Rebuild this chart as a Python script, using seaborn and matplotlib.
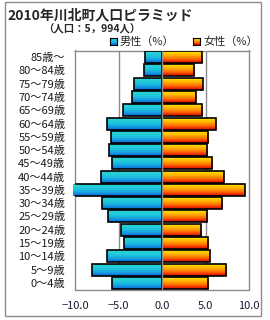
import numpy as np
import pandas as pd
import matplotlib
matplotlib.use("Agg")
import matplotlib.pyplot as plt
from matplotlib.colors import LinearSegmentedColormap
import seaborn as sns

# ---- data ----
age_groups = ["85歳～", "80～84歳", "75～79歳", "70～74歳", "65～69歳", "60～64歳",
              "55～59歳", "50～54歳", "45～49歳", "40～44歳", "35～39歳", "30～34歳",
              "25～29歳", "20～24歳", "15～19歳", "10～14歳", "5～9歳", "0～4歳"]
male_pct = [1.9, 2.1, 3.2, 3.5, 4.5, 6.3, 5.9, 6.1, 5.7, 7.0, 10.2, 6.9,
            6.2, 4.7, 4.4, 6.3, 8.1, 5.8]
female_pct = [4.6, 3.7, 4.7, 3.9, 4.6, 6.2, 5.3, 5.2, 5.8, 7.1, 9.5, 6.9,
              5.2, 4.5, 5.3, 5.5, 7.4, 5.3]
x_ticks = [-10, -5, 0, 5, 10]
x_tick_labels = ["−10.0", "−5.0", "0.0", "5.0", "10.0"]
title = "2010年川北町人口ピラミッド"
subtitle = "（人口：5，994人）"
legend_labels = ["男性（%）", "女性（%）"]

sns.set_style("white")
plt.rcParams["font.family"] = ["Noto Sans CJK JP", "DejaVu Sans"]

male_cmap = LinearSegmentedColormap.from_list(
    "m", [(0, "#2cd6d2"), (0.45, "#1ec4dc"), (0.75, "#1598e0"), (1, "#0a62d8")])
female_cmap = LinearSegmentedColormap.from_list(
    "f", [(0, "#ffe600"), (0.35, "#ffb000"), (0.65, "#ff6a00"), (1, "#d80000")])

fig = plt.figure(figsize=(2.7, 3.2), dpi=100)
ax = fig.add_axes([75 / 270, 1 - 289.5 / 320, 174 / 270, 239 / 320])

df = pd.DataFrame({"age": age_groups * 2,
                   "value": [-v for v in male_pct] + female_pct,
                   "sex": ["male"] * len(age_groups) + ["female"] * len(age_groups)})

sns.barplot(data=df[df.sex == "male"], x="value", y="age", order=age_groups,
            orient="h", width=0.9, color="#1ec4dc", edgecolor="black",
            linewidth=1.2, ax=ax, zorder=3)
sns.barplot(data=df[df.sex == "female"], x="value", y="age", order=age_groups,
            orient="h", width=0.9, color="#ffa000", edgecolor="black",
            linewidth=1.2, ax=ax, zorder=3)

grad = np.linspace(0, 1, 64).reshape(-1, 1)
n = len(age_groups)
for i, p in enumerate(ax.patches):
    cmap = male_cmap if i < n else female_cmap
    x0, y0 = p.get_x(), p.get_y()
    w, h = p.get_width(), p.get_height()
    im = ax.imshow(grad, cmap=cmap, aspect="auto", origin="upper",
                   extent=(x0, x0 + w, y0 + h, y0), zorder=3.5,
                   interpolation="bilinear")
    im.set_clip_path(p)
    p.set_facecolor("none")
    p.set_zorder(4)

ax.set_xlim(-10, 10)
ax.set_ylim(n - 0.5, -0.5)
ax.set_xticks(x_ticks)
ax.set_xticklabels(x_tick_labels)
for gx in [-5, 5]:
    ax.axvline(gx, color="#8c8c8c", lw=1.0, zorder=1)
ax.axvline(0, color="#8c8c8c", lw=1.0, zorder=5)
for s in ax.spines.values():
    s.set_color("#8c8c8c")
    s.set_linewidth(1.0)
ax.set_xlabel("")
ax.set_ylabel("")
ax.tick_params(axis="x", length=0, pad=8, labelsize=8, labelcolor="#1a1a33")
ax.tick_params(axis="y", length=0, pad=7, labelsize=8, labelcolor="#1a1a1a")

# texts
fig.text(7 / 270, 1 - 15 / 320, title, fontsize=10, fontweight="bold",
         ha="left", va="center")
fig.text(92 / 270, 1 - 29 / 320, subtitle, fontsize=7.5, fontweight="bold",
         ha="center", va="center")

# legend markers with gradient
for (lx, lab, cmap) in [(110, legend_labels[0], male_cmap),
                        (193, legend_labels[1], female_cmap)]:
    lax = fig.add_axes([lx / 270, 1 - 45 / 320, 7 / 270, 7 / 320])
    lax.imshow(grad, cmap=cmap, aspect="auto", origin="upper")
    lax.set_xticks([])
    lax.set_yticks([])
    for s in lax.spines.values():
        s.set_color("black")
        s.set_linewidth(0.8)
    fig.text((lx + 10) / 270, 1 - 41.5 / 320, lab, fontsize=8,
             ha="left", va="center")

# outer frame
frame = plt.Rectangle((5 / 270, 1 - 316 / 320), 256 / 270, 314 / 320,
                      transform=fig.transFigure, fill=False,
                      edgecolor="#8c8c8c", lw=1.0)
fig.patches.append(frame)

fig.savefig("out.png", dpi=100)
